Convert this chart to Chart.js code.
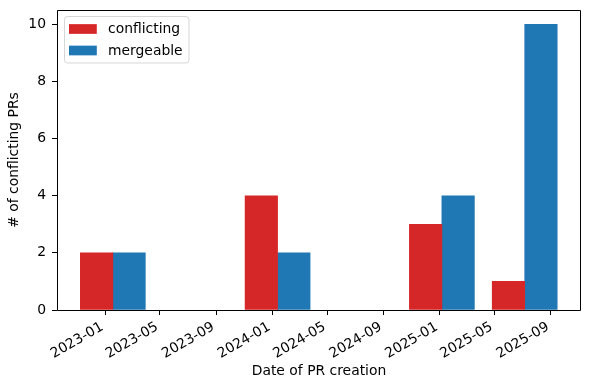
<!DOCTYPE html>
<html>
<head>
<meta charset="utf-8">
<script src="https://cdn.jsdelivr.net/npm/chart.js@4.4.1/dist/chart.umd.min.js"></script>
<style>
  html, body { margin: 0; padding: 0; background: #ffffff; }
  #wrap { width: 590px; height: 390px; }
</style>
</head>
<body>
<div id="wrap"><canvas id="c" width="590" height="390"></canvas></div>
<script>
// ---- data ----
const categories = ['2023-01-18', '2024-01-13', '2025-01-06', '2025-07-06'];
const conflicting = [2, 4, 3, 1];
const mergeable = [2, 2, 4, 10];
const xTickLabels = ['2023-01', '2023-05', '2023-09', '2024-01', '2024-05', '2024-09', '2025-01', '2025-05', '2025-09'];
const yTicks = [0, 2, 4, 6, 8, 10];
const xRange = ['2022-09-18', '2025-11-06'];
const yMax = 10.5;
const barWidthDays = 71;
const seriesNames = ['conflicting', 'mergeable'];
const seriesColors = ['#d62728', '#1f77b4'];

// ---- helpers ----
const DAY = 86400000;
const toDays = s => Date.parse(s) / DAY;
const fmtMonth = v => new Date(Math.round(v) * DAY).toISOString().slice(0, 7);

const FONT = 'DejaVu Sans';
const FS = 13.9;
Chart.defaults.font.family = FONT;
Chart.defaults.font.size = FS;
Chart.defaults.color = '#000000';

const seriesValues = [conflicting, mergeable];
const datasets = seriesNames.map((name, i) => ({
  label: name,
  data: categories.map((d, j) => ({ x: toDays(d), y: seriesValues[i][j] })),
  backgroundColor: seriesColors[i],
  borderWidth: 0,
  barPercentage: 1,
  categoryPercentage: 1
}));

const framePlugin = {
  id: 'frameAndLegend',
  afterDatasetsDraw(chart) {
    const { ctx, chartArea: a } = chart;
    ctx.save();
    ctx.strokeStyle = '#000000';
    ctx.lineWidth = 1;
    const l = Math.round(a.left) + 0.5, t = Math.round(a.top) + 0.5;
    const r = Math.round(a.right) - 0.5, b = Math.round(a.bottom) + 0.5;
    ctx.beginPath();
    ctx.rect(l, t, r - l, b - t);
    ctx.stroke();

    // rotated date tick labels (30 deg, right-aligned under each tick)
    const xs = chart.scales.x;
    ctx.font = FS + 'px "' + FONT + '"';
    ctx.fillStyle = '#000000';
    ctx.textAlign = 'right';
    ctx.textBaseline = 'alphabetic';
    xs.ticks.forEach((tk, i) => {
      const px = xs.getPixelForTick(i);
      ctx.save();
      ctx.translate(px - 1, xs.top + 19.2);
      ctx.rotate(-Math.PI / 6);
      ctx.fillText(fmtMonth(tk.value), 0, 0);
      ctx.restore();
    });

    // legend (upper left, inside the axes)
    const bx = l + 7, by = t + 6, bw = 124.5, bh = 46.5, rad = 3;
    ctx.beginPath();
    ctx.moveTo(bx + rad, by);
    ctx.lineTo(bx + bw - rad, by);
    ctx.arcTo(bx + bw, by, bx + bw, by + rad, rad);
    ctx.lineTo(bx + bw, by + bh - rad);
    ctx.arcTo(bx + bw, by + bh, bx + bw - rad, by + bh, rad);
    ctx.lineTo(bx + rad, by + bh);
    ctx.arcTo(bx, by + bh, bx, by + bh - rad, rad);
    ctx.lineTo(bx, by + rad);
    ctx.arcTo(bx, by, bx + rad, by, rad);
    ctx.closePath();
    ctx.fillStyle = 'rgba(255,255,255,0.8)';
    ctx.fill();
    ctx.strokeStyle = 'rgba(204,204,204,0.8)';
    ctx.stroke();

    ctx.textBaseline = 'middle';
    ctx.textAlign = 'left';
    chart.data.datasets.forEach((ds, i) => {
      const cy = by + 12.5 + i * 21.5;
      ctx.fillStyle = ds.backgroundColor;
      ctx.fillRect(bx + 4.5, cy - 4.85, 27.8, 9.7);
      ctx.fillStyle = '#000000';
      ctx.fillText(ds.label, bx + 43.5, cy + 0.5);
    });
    ctx.restore();
  }
};

const chart = new Chart(document.getElementById('c'), {
  type: 'bar',
  data: { datasets },
  options: {
    responsive: false,
    animation: false,
    devicePixelRatio: 1,
    layout: { padding: { top: 10, right: 9, bottom: 0, left: 0 } },
    plugins: {
      legend: { display: false },
      tooltip: { enabled: false }
    },
    scales: {
      x: {
        type: 'linear',
        min: toDays(xRange[0]),
        max: toDays(xRange[1]),
        offset: false,
        afterBuildTicks: s => { s.ticks = xTickLabels.map(lb => ({ value: toDays(lb + '-01') })); },
        afterFit: s => { s.height = 80; s.paddingLeft = 0; s.paddingRight = 0; },
        ticks: {
          display: false,
          autoSkip: false,
          callback: v => fmtMonth(v)
        },
        grid: { display: true, offset: false, drawOnChartArea: false, drawTicks: true, tickLength: 5, tickWidth: 1, tickColor: '#000000' },
        border: { display: false },
        title: { display: true, text: 'Date of PR creation', color: '#000000', font: { family: FONT, size: FS }, padding: { top: 0, bottom: 10 } }
      },
      y: {
        type: 'linear',
        min: 0,
        max: yMax,
        afterBuildTicks: s => { s.ticks = yTicks.map(v => ({ value: v })); },
        afterFit: s => { s.width = 57; s.paddingTop = 0; s.paddingBottom = 0; },
        ticks: { padding: 6, color: '#000000', font: { family: FONT, size: FS } },
        grid: { display: true, offset: false, drawOnChartArea: false, drawTicks: true, tickLength: 5, tickWidth: 1, tickColor: '#000000' },
        border: { display: false },
        title: { display: true, text: '# of conflicting PRs', color: '#000000', font: { family: FONT, size: FS }, padding: { top: 6, bottom: 0 } }
      }
    }
  },
  plugins: [framePlugin]
});

// bar width of barWidthDays, measured through the x scale
const xs = chart.scales.x;
const thickness = xs.getPixelForValue(xs.min + barWidthDays) - xs.getPixelForValue(xs.min);
chart.data.datasets.forEach(ds => { ds.barThickness = thickness; });
chart.update('none');
</script>
</body>
</html>
